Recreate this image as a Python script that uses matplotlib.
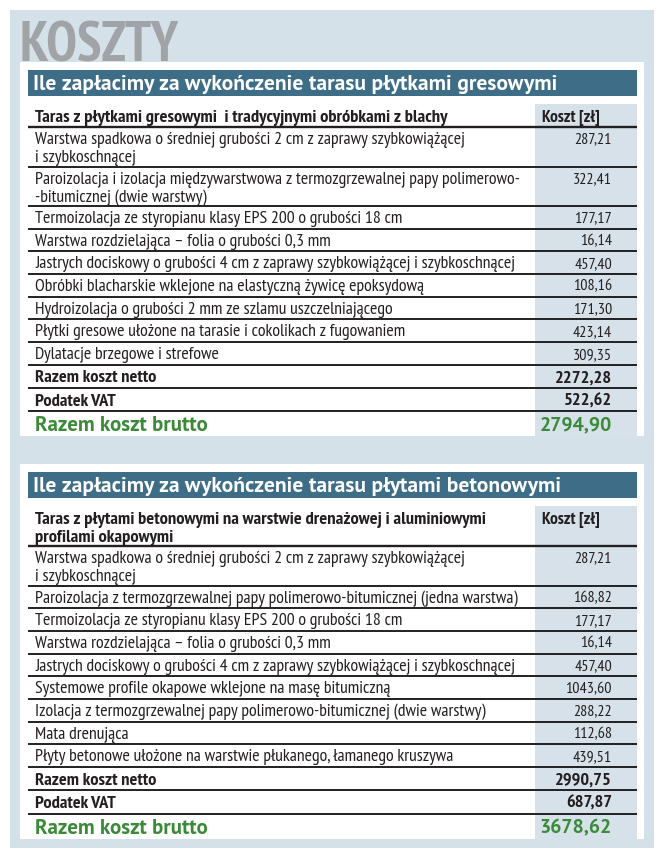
import matplotlib
matplotlib.use("Agg")
import matplotlib.pyplot as plt
from matplotlib.patches import Rectangle

# --- data ---------------------------------------------------------------
title = "KOSZTY"

head1 = "Ile zapłacimy za wykończenie tarasu płytkami gresowymi"
col1 = "Taras z płytkami gresowymi  i tradycyjnymi obróbkami z blachy"
items1 = [
    "Warstwa spadkowa o średniej grubości 2 cm z zaprawy szybkowiążącej\ni szybkoschnącej",
    "Paroizolacja i izolacja międzywarstwowa z termozgrzewalnej papy polimerowo-\n-bitumicznej (dwie warstwy)",
    "Termoizolacja ze styropianu klasy EPS 200 o grubości 18 cm",
    "Warstwa rozdzielająca – folia o grubości 0,3 mm",
    "Jastrych dociskowy o grubości 4 cm z zaprawy szybkowiążącej i szybkoschnącej",
    "Obróbki blacharskie wklejone na elastyczną żywicę epoksydową",
    "Hydroizolacja o grubości 2 mm ze szlamu uszczelniającego",
    "Płytki gresowe ułożone na tarasie i cokolikach z fugowaniem",
    "Dylatacje brzegowe i strefowe",
]
costs1 = [287.21, 322.41, 177.17, 16.14, 457.40, 108.16, 171.30, 423.14, 309.35]
totals1 = [2272.28, 522.62, 2794.90]

head2 = "Ile zapłacimy za wykończenie tarasu płytami betonowymi"
col2 = "Taras z płytami betonowymi na warstwie drenażowej i aluminiowymi\nprofilami okapowymi"
items2 = [
    "Warstwa spadkowa o średniej grubości 2 cm z zaprawy szybkowiążącej\ni szybkoschnącej",
    "Paroizolacja z termozgrzewalnej papy polimerowo-bitumicznej (jedna warstwa)",
    "Termoizolacja ze styropianu klasy EPS 200 o grubości 18 cm",
    "Warstwa rozdzielająca – folia o grubości 0,3 mm",
    "Jastrych dociskowy o grubości 4 cm z zaprawy szybkowiążącej i szybkoschnącej",
    "Systemowe profile okapowe wklejone na masę bitumiczną",
    "Izolacja z termozgrzewalnej papy polimerowo-bitumicznej (dwie warstwy)",
    "Mata drenująca",
    "Płyty betonowe ułożone na warstwie płukanego, łamanego kruszywa",
]
costs2 = [287.21, 168.82, 177.17, 16.14, 457.40, 1043.60, 288.22, 112.68, 439.51]
totals2 = [2990.75, 687.87, 3678.62]

total_labels = ["Razem koszt netto", "Podatek VAT", "Razem koszt brutto"]
cost_header = "Koszt [zł]"

# --- style --------------------------------------------------------------
PANEL = "#d5e1e9"
VALBG = "#d6e1e9"
BAR = "#3e6e87"
GREEN = "#3a8a37"
INK = "#231f20"
GRAY = "#a0a4a7"

NARROW = ["PT Sans Narrow", "Roboto Condensed", "DejaVu Sans"]
WIDE = ["PT Sans", "Lato", "DejaVu Sans"]

fmt = lambda v: f"{v:.2f}".replace(".", ",")

fig = plt.figure(figsize=(6.64, 8.58), dpi=100)
ax = fig.add_axes([0, 0, 1, 1])
ax.set_xlim(0, 664)
ax.set_ylim(858, 0)
ax.axis("off")

ax.add_patch(Rectangle((10, 10), 644, 838, color=PANEL, lw=0))
ax.text(20, 62, title, family=NARROW, fontsize=40, fontweight="bold",
        color=GRAY, va="baseline", ha="left")

XL, XR, XV0 = 28, 637, 535


def hline(y, lw=1.4):
    ax.plot([XL, XR], [y, y], color=INK, lw=lw, solid_capstyle="butt")


def draw_table(top, head, col, items, costs, totals):
    # row heights from the number of text lines
    col_h = 23 if "\n" not in col else 40
    hs = [39.5 if "\n" in s else 22.7 for s in items]
    total_h = [23, 23.5, 25]
    bottom = top + 42 + col_h + sum(hs) + sum(total_h)

    ax.add_patch(Rectangle((20, top), 624, bottom - top, color="white", lw=0))
    ax.add_patch(Rectangle((XL, top + 8), XR - XL, 26, color=BAR, lw=0))
    ax.text(33, top + 21, head, family=WIDE, fontsize=15.5, fontweight="bold",
            color="white", va="center_baseline")
    y = top + 42
    ax.add_patch(Rectangle((XV0, y), XR - XV0, bottom - y, color=VALBG, lw=0))

    for k, line in enumerate(col.split("\n")):
        ax.text(35, y + 12 + 18 * k, line, family=NARROW, fontsize=13.3,
                fontweight="bold", color=INK, va="center_baseline")
    ax.text(542, y + 12, cost_header, family=NARROW, fontsize=12.4,
            fontweight="bold", color=INK, va="center_baseline")
    y += col_h
    hline(y, 1.7)

    for s, v, h in zip(items, costs, hs):
        for k, line in enumerate(s.split("\n")):
            ax.text(35, y + 11 + 18 * k, line, family=NARROW, fontsize=12.75,
                    color=INK, va="center_baseline")
        ax.text(612, y + 11, fmt(v), family=NARROW, fontsize=11.5,
                color=INK, va="center_baseline", ha="right")
        y += h
        hline(y)

    for i, (lab, v, h) in enumerate(zip(total_labels, totals, total_h)):
        if i < 2:
            ax.text(35, y + h / 2, lab, family=NARROW, fontsize=13.2,
                    fontweight="bold", color=INK, va="center_baseline")
            ax.text(612, y + h / 2, fmt(v), family=NARROW, fontsize=13.2,
                    fontweight="bold", color=INK, va="center_baseline", ha="right")
            y += h
            hline(y)
        else:
            ax.text(35, y + 12.5, lab, family=WIDE, fontsize=15,
                    fontweight="bold", color=GREEN, va="center_baseline")
            ax.text(612, y + 12.5, fmt(v), family=WIDE, fontsize=14.2,
                    fontweight="bold", color=GREEN, va="center_baseline", ha="right")


draw_table(62, head1, col1, items1, costs1, totals1)
draw_table(464, head2, col2, items2, costs2, totals2)

fig.savefig("out.png", dpi=100)
